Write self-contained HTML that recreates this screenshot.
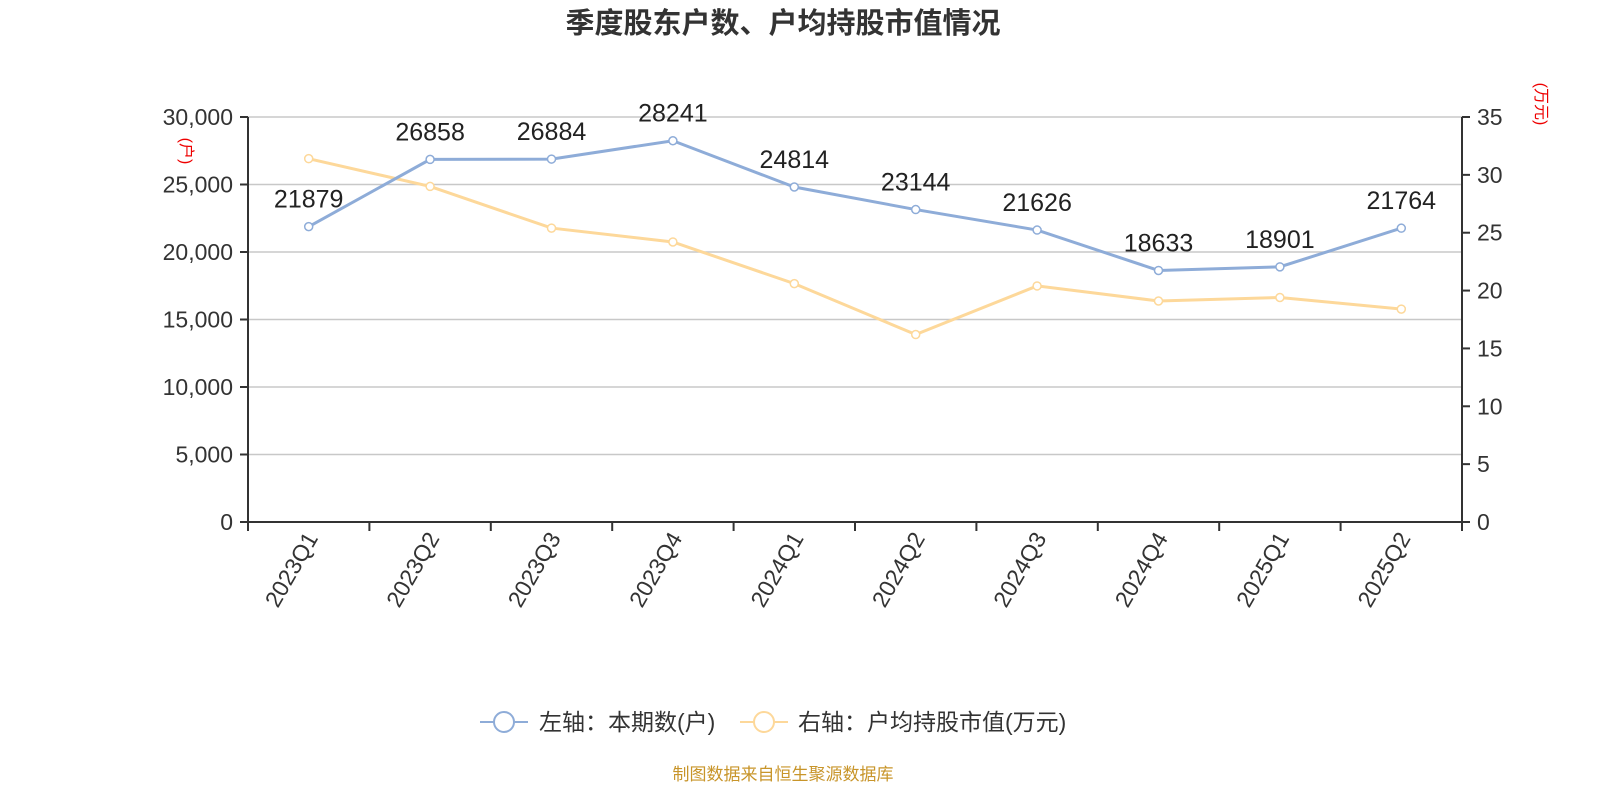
<!DOCTYPE html>
<html><head><meta charset="utf-8"><style>
html,body{margin:0;padding:0;background:#fff;}
svg{display:block;font-family:"Liberation Sans","Noto Sans CJK SC",sans-serif;}
</style></head><body>
<svg id="c" width="1600" height="800" xmlns="http://www.w3.org/2000/svg">
<text x="783" y="33" text-anchor="middle" font-size="29" font-weight="bold" fill="#333">季度股东户数、户均持股市值情况</text>
<g id="grid"></g>
<g id="axes"></g>
<g id="series"></g>
<text transform="translate(181,151) rotate(90)" text-anchor="middle" font-size="16" fill="#e00">(户)</text>
<text transform="translate(1536,104) rotate(90)" text-anchor="middle" font-size="16" fill="#e00">(万元)</text>
<g>
<g>
<line x1="480" y1="722" x2="528" y2="722" stroke="#8eacd8" stroke-width="2"/>
<circle cx="504" cy="722" r="10" fill="#fff" stroke="#8eacd8" stroke-width="2"/>
<text x="539" y="730" font-size="23" fill="#333">左轴：本期数(户)</text>
</g>
<g>
<line x1="740" y1="722" x2="788" y2="722" stroke="#fdd89a" stroke-width="2"/>
<circle cx="764" cy="722" r="10" fill="#fff" stroke="#fdd89a" stroke-width="2"/>
<text x="798" y="730" font-size="23" fill="#333">右轴：户均持股市值(万元)</text>
</g>
</g>
<text x="783" y="780" text-anchor="middle" font-size="17" fill="#c8952a">制图数据来自恒生聚源数据库</text>
</svg>
<script>
const categories=["2023Q1","2023Q2","2023Q3","2023Q4","2024Q1","2024Q2","2024Q3","2024Q4","2025Q1","2025Q2"];
const households=[21879,26858,26884,28241,24814,23144,21626,18633,18901,21764];
const avgValue=[31.4,29.0,25.4,24.2,20.6,16.2,20.4,19.1,19.4,18.4];
const leftTicks=[0,5000,10000,15000,20000,25000,30000];
const rightTicks=[0,5,10,15,20,25,30,35];
const NS="http://www.w3.org/2000/svg";
const L=248,R=1462,T=117,B=522;
const bw=(R-L)/categories.length;
const xc=i=>L+bw*(i+0.5);
const yl=v=>B-(v/30000)*(B-T);
const yr=v=>B-(v/35)*(B-T);
function mk(p,tag,a){const e=document.createElementNS(NS,tag);for(const k in a)e.setAttribute(k,a[k]);p.appendChild(e);return e;}
const grid=document.getElementById('grid'),axes=document.getElementById('axes'),ser=document.getElementById('series');
leftTicks.forEach(v=>{
  if(v>0){const g=mk(grid,'line',{x1:L,x2:R,y1:yl(v),y2:yl(v),stroke:'#c8c8c8','stroke-width':1.5});
  
  }
  mk(axes,'line',{x1:L-8,x2:L,y1:yl(v),y2:yl(v),stroke:'#333','stroke-width':2});
  const t=mk(axes,'text',{x:L-15,y:yl(v)+8,'text-anchor':'end','font-size':23,fill:'#333'});
  t.textContent=v.toLocaleString('en-US');
  
  
});
rightTicks.forEach(v=>{
  mk(axes,'line',{x1:R,x2:R+8,y1:yr(v),y2:yr(v),stroke:'#333','stroke-width':2});
  const t=mk(axes,'text',{x:R+15,y:yr(v)+8,'font-size':23,fill:'#333'});
  t.textContent=v;
  
  
});
mk(axes,'line',{x1:L,x2:L,y1:T,y2:B,stroke:'#333','stroke-width':2});
mk(axes,'line',{x1:R,x2:R,y1:T,y2:B,stroke:'#333','stroke-width':2});
mk(axes,'line',{x1:L,x2:R,y1:B,y2:B,stroke:'#333','stroke-width':2});
for(let i=0;i<=categories.length;i++)mk(axes,'line',{x1:L+bw*i,x2:L+bw*i,y1:B,y2:B+9,stroke:'#333','stroke-width':2});
categories.forEach((c,i)=>{
  const t=mk(axes,'text',{transform:`translate(${xc(i)+10},${B+16}) rotate(-60)`,'text-anchor':'end','font-size':23,fill:'#333'});
  t.textContent=c;
  
  
});
function line(vals,yf,col,name,labels){
  const p=mk(ser,'polyline',{points:vals.map((v,i)=>xc(i)+','+yf(v)).join(' '),fill:'none',stroke:col,'stroke-width':3});
  
  
  vals.forEach((v,i)=>{
    const c=mk(ser,'circle',{cx:xc(i),cy:yf(v),r:4,fill:'#fff',stroke:col,'stroke-width':1.5});
    
    
    if(labels){const t=mk(ser,'text',{x:xc(i),y:yf(v)-19,'text-anchor':'middle','font-size':25,fill:'#222'});
      t.textContent=v;
      
      }
  });
}
line(avgValue,yr,'#fdd89a','avg-value',false);
line(households,yl,'#8eacd8','households',true);
</script>
</body></html>
